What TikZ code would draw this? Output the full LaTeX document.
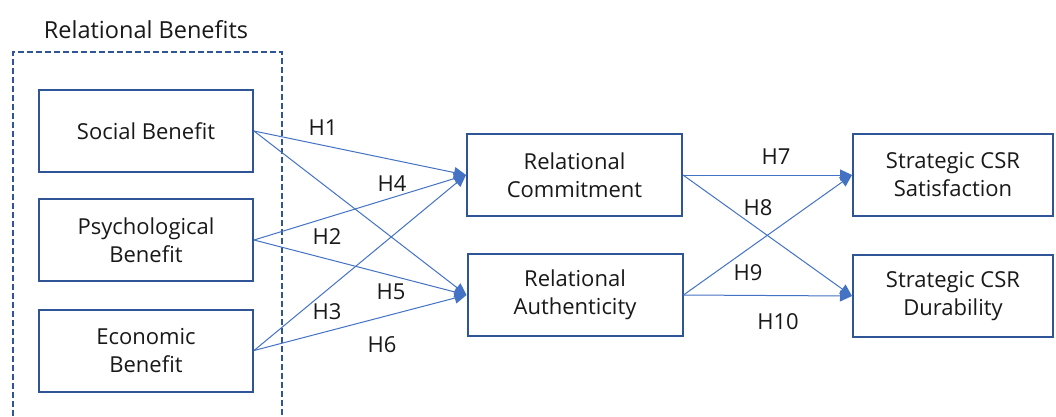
\documentclass[tikz,border=0pt]{standalone}
\usepackage{fontspec}
\setmainfont{Open Sans}
\usetikzlibrary{arrows.meta}
\definecolor{boxblue}{HTML}{2F5597}
\definecolor{linkblue}{HTML}{4472C4}
\begin{document}
\begin{tikzpicture}[x=1pt,y=-1pt,
  every node/.style={font=\fontsize{22}{28}\selectfont, text=black!90},
  box/.style={draw=boxblue, line width=2pt, minimum height=82pt, align=center, inner sep=0pt},
  link/.style={draw=linkblue, line width=1pt, -{Triangle[length=12pt,width=11pt]}},
  hlab/.style={inner sep=1pt}]
\useasboundingbox (0,0) rectangle (1056,416);
\fill[white] (0,0) rectangle (1056,416);
% dashed group
\draw[boxblue, line width=1.5pt, dash pattern=on 6pt off 3pt] (13,416) -- (13,52) -- (282,52) -- (282,416);
\node[font=\fontsize{23.5}{28}\selectfont] (title) at (146,30) {Relational Benefits};
% boxes
\node[box, minimum width=214pt] (soc) at (146,131) {Social Benefit};
\node[box, minimum width=214pt] (psy) at (146,240) {Psychological\\Benefit};
\node[box, minimum width=214pt] (eco) at (146,350.5) {Economic\\Benefit};
\node[box, minimum width=215pt] (com) at (574.5,175) {Relational\\Commitment};
\node[box, minimum width=215pt] (aut) at (575,295) {Relational\\Authenticity};
\node[box, minimum width=200pt] (sat) at (953,175) {Strategic CSR\\Satisfaction};
\node[box, minimum width=200pt] (dur) at (953,296) {Strategic CSR\\Durability};
% links
\draw[link] (soc.east) -- (com.west);
\draw[link] (soc.east) -- (aut.west);
\draw[link] (psy.east) -- (com.west);
\draw[link] (psy.east) -- (aut.west);
\draw[link] (eco.east) -- (com.west);
\draw[link] (eco.east) -- (aut.west);
\draw[link] (com.east) -- (sat.west);
\draw[link] (com.east) -- (dur.west);
\draw[link] (aut.east) -- (sat.west);
\draw[link] (aut.east) -- (dur.west);
% labels
\node[hlab] (h1) at (323,128) {H1};
\node[hlab] (h4) at (392,184) {H4};
\node[hlab] (h2) at (327,237) {H2};
\node[hlab] (h5) at (391,292) {H5};
\node[hlab] (h3) at (327,312) {H3};
\node[hlab] (h6) at (382,345) {H6};
\node[hlab] (h7) at (776,157) {H7};
\node[hlab] (h8) at (758,208) {H8};
\node[hlab] (h9) at (748,273) {H9};
\node[hlab] (h10) at (778,322) {H10};
\end{tikzpicture}
\end{document}
